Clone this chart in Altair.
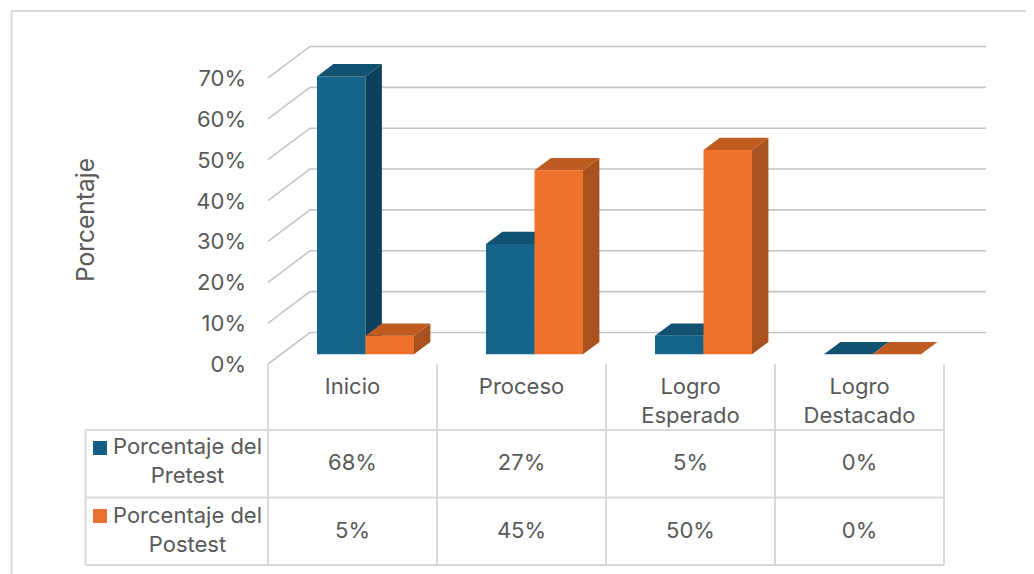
import altair as alt
import pandas as pd

# ---- values ----
categories = ["Inicio", "Proceso", "Logro Esperado", "Logro Destacado"]
category_lines = [["Inicio"], ["Proceso"], ["Logro", "Esperado"], ["Logro", "Destacado"]]
pretest_heights = [68, 27, 4.5, 0]
postest_heights = [4.5, 45, 50, 0]
pretest_labels = ["68%", "27%", "5%", "0%"]
postest_labels = ["5%", "45%", "50%", "0%"]
y_ticks = [0, 10, 20, 30, 40, 50, 60, 70]
series_names = [["Porcentaje del", "Pretest"], ["Porcentaje del", "Postest"]]
axis_title = "Porcentaje"

# ---- styles ----
FONT = "Inter"
TEXT = "#595959"
GRID = "#c4c4c4"
LINE = "#d9d9d9"
BLUE = {"front": "#17648a", "side": "#0d415b", "top": "#115270"}
ORANGE = {"front": "#ef722b", "side": "#a9521f", "top": "#bf5a20"}
SWATCH = ["#156082", "#e97132"]

# ---- layout: image pixels <-> data units (one unit = one category; one unit = 1 %) ----
PX_PER_CAT, PX_PER_PCT = 169.0, 4.086
def U(px): return (px - 268) / PX_PER_CAT
def V(py): return (364 - py) / PX_PER_PCT

DEPTH_X, DEPTH_Y = 42 / PX_PER_CAT, 31.5 / PX_PER_PCT
def project(u, v, d): return u + d * DEPTH_X, v + d * DEPTH_Y

D0, D1 = 0.31, 0.70     # bar depth range inside the floor
BAR_W = 0.287

x_scale = alt.Scale(domain=[U(8), U(1026)], range=[0, 1018], nice=False, zero=False)
y_scale = alt.Scale(domain=[V(574), V(8)], range=[566, 0], nice=False, zero=False)

# ---- walls ----
grid_rows = []
for t in y_ticks:
    for (u, d) in [(0, 0), (0, 1), (4, 1)]:
        x, y = project(u, t, d)
        grid_rows.append({"x": x, "y": y, "t": t})
grid = alt.Chart(pd.DataFrame(grid_rows)).mark_line(color=GRID, strokeWidth=1.6).encode(
    x=alt.X("x:Q", scale=x_scale, axis=None),
    y=alt.Y("y:Q", scale=y_scale, axis=None),
    detail="t:N",
)

# ---- bars: each face an area, drawn back to front ----
faces = []
def add_bar(face_id, left, right, value, colors):
    xa, _ = project(left, 0, D0)
    xb, _ = project(left, 0, D1)
    xc, _ = project(right, 0, D0)
    xd, _ = project(right, 0, D1)
    _, low_f = project(0, 0, D0)
    _, low_b = project(0, 0, D1)
    _, top_f = project(0, value, D0)
    _, top_b = project(0, value, D1)
    fid = face_id
    for x, y, y2 in [(xa, low_f, top_f), (xc, low_f, top_f)]:
        faces.append({"f": f"{fid:03d}a", "x": x, "y": y, "y2": y2, "c": colors["front"]})
    for x, y, y2 in [(xc, low_f, top_f), (xd, low_b, top_b)]:
        faces.append({"f": f"{fid:03d}b", "x": x, "y": y, "y2": y2, "c": colors["side"]})
    for x, y, y2 in [(xa, top_f, top_f), (xb, top_f, top_b), (xc, top_f, top_b), (xd, top_b, top_b)]:
        faces.append({"f": f"{fid:03d}c", "x": x, "y": y, "y2": y2, "c": colors["top"]})

fid = 0
for i in range(len(categories)):
    c = i + 0.5
    add_bar(fid, c - BAR_W, c, pretest_heights[i], BLUE); fid += 1
    add_bar(fid, c, c + BAR_W, postest_heights[i], ORANGE); fid += 1

bars = alt.Chart(pd.DataFrame(faces)).mark_area(orient="vertical", interpolate="linear", opacity=1).encode(
    x=alt.X("x:Q", scale=x_scale, axis=None),
    y=alt.Y("y:Q", scale=y_scale, axis=None),
    y2="y2:Q",
    color=alt.Color("c:N", scale=None),
    detail="f:N",
)

# ---- data table and frame rules ----
def rule_rows(rows):
    return pd.DataFrame([{"x": U(a), "x2": U(b), "y": V(c), "y2": V(d)} for a, b, c, d in rows])

table_rows = [(85.5, 944, py, py) for py in (430, 497.5, 565)]
table_rows += [(85.5, 85.5, 430, 565)]
table_rows += [(px, px, 364, 565) for px in (268, 437, 606, 775, 944)]
frame_rows = [(11, 1026, 11, 11), (11.5, 11.5, 11, 574)]

def rules(df, width):
    return alt.Chart(df).mark_rule(color=LINE, strokeWidth=width).encode(
        x=alt.X("x:Q", scale=x_scale, axis=None), x2="x2:Q",
        y=alt.Y("y:Q", scale=y_scale, axis=None), y2="y2:Q",
    )

table = rules(rule_rows(table_rows), 2)
frame = rules(rule_rows(frame_rows), 2)

# ---- text ----
FS = 22
def text_layer(rows, align="center", angle=0, size=FS):
    kw = {"angle": angle} if angle else {}
    return alt.Chart(pd.DataFrame(rows)).mark_text(
        font=FONT, fontSize=size, color=TEXT, align=align, baseline="middle", **kw
    ).encode(
        x=alt.X("x:Q", scale=x_scale, axis=None),
        y=alt.Y("y:Q", scale=y_scale, axis=None),
        text="s:N",
    )

tick_rows = [{"x": U(246), "y": t - 1 / PX_PER_PCT, "s": f"{t}%"} for t in y_ticks]
cell_rows = []
for i, lines in enumerate(category_lines):
    for j, s in enumerate(lines):
        cell_rows.append({"x": i + 0.5, "y": V(387 + 29 * j), "s": s})
for i in range(len(categories)):
    cell_rows.append({"x": i + 0.5, "y": V(463), "s": pretest_labels[i]})
    cell_rows.append({"x": i + 0.5, "y": V(531), "s": postest_labels[i]})
for r, lines in enumerate(series_names):
    base = 447 + 68.5 * r
    cell_rows.append({"x": U(187.5), "y": V(base), "s": lines[0]})
    cell_rows.append({"x": U(187.5), "y": V(base + 29), "s": lines[1]})

ticks_text = text_layer(tick_rows, align="right")
cells_text = text_layer(cell_rows)
title_text = text_layer([{"x": U(87), "y": V(220), "s": axis_title}], angle=270, size=24.5)

swatches = alt.Chart(pd.DataFrame([
    {"x": U(100), "y": V(448), "c": SWATCH[0]},
    {"x": U(100), "y": V(516), "c": SWATCH[1]},
])).mark_square(size=196, opacity=1, filled=True).encode(
    x=alt.X("x:Q", scale=x_scale, axis=None),
    y=alt.Y("y:Q", scale=y_scale, axis=None),
    color=alt.Color("c:N", scale=None),
)

chart = alt.layer(frame, grid, bars, table, swatches, ticks_text, cells_text, title_text).properties(
    width=1018, height=566, padding=0, autosize=alt.AutoSizeParams(type="none"), background="white",
).configure_view(stroke=None)

chart.save("out.html", embed_options={"renderer": "svg", "actions": False})
